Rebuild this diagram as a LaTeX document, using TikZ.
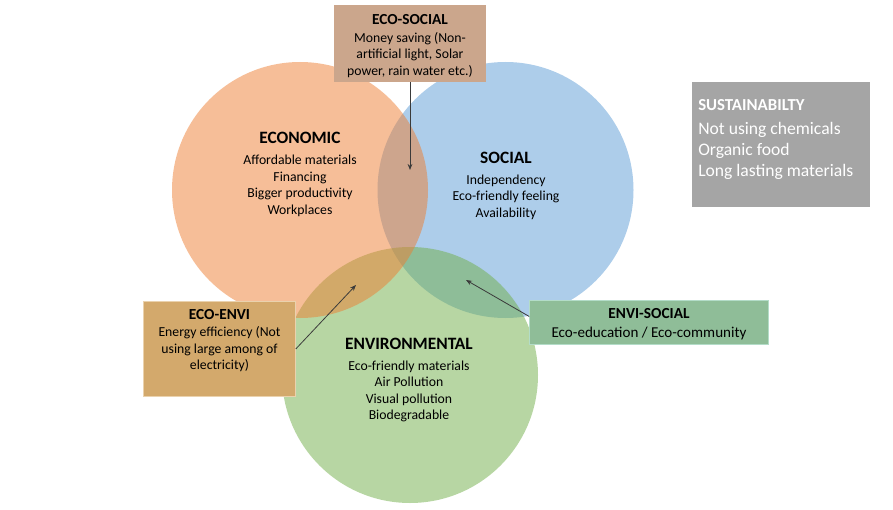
\documentclass[tikz,border=0pt]{standalone}
\usepackage{fontspec}
\setmainfont{Carlito}
\usetikzlibrary{arrows.meta}
\definecolor{cblue}{HTML}{5B9BD5}
\definecolor{cgreen}{HTML}{70AD47}
\definecolor{corange}{HTML}{ED7D31}
\definecolor{ecosoc}{HTML}{CBA68C}
\definecolor{ecoenv}{HTML}{D3A96C}
\definecolor{ecoenvb}{HTML}{EAD2AE}
\definecolor{envsoc}{HTML}{8FBD98}
\definecolor{envsocb}{HTML}{B3DCC8}
\definecolor{sustgray}{HTML}{A5A5A5}
\definecolor{arrowgray}{HTML}{3A3A3A}
\tikzset{
  venn/.style={circle, minimum size=192pt, inner sep=0pt, fill opacity=0.5},
  boxtitle/.style={font=\fontsize{11.5}{13}\selectfont\bfseries, inner sep=0pt},
  circtitle/.style={font=\fontsize{13}{15}\selectfont\bfseries, inner sep=0pt},
  bodytext/.style={font=\fontsize{10.3}{12.4}\selectfont, align=center, inner sep=0pt},
  pointer/.style={draw=arrowgray, line width=0.6pt, -{Stealth[length=4.5pt,width=3.5pt]}},
}
\begin{document}
\begin{tikzpicture}[x=0.75pt,y=-0.75pt]
\useasboundingbox (0,0) rectangle (893,510);
% circles
\node[venn, fill=cblue] (soc) at (505.5,190) {};
\node[venn, fill=cgreen] (env) at (410,375) {};
\node[venn, fill=corange] (econ) at (300,190) {};
% circle texts
\node[circtitle] (econT) at (300,138) {ECONOMIC};
\node[bodytext] (econB) at (300,186) {Affordable materials\\Financing\\Bigger productivity\\Workplaces};
\node[circtitle] (socT) at (506,158) {SOCIAL};
\node[bodytext] (socB) at (506,197) {Independency\\Eco-friendly feeling\\Availability};
\node[circtitle] (envT) at (409,344) {ENVIRONMENTAL};
\node[bodytext] (envB) at (409,391.5) {Eco-friendly materials\\Air Pollution\\Visual pollution\\Biodegradable};
% boxes
\fill[ecosoc] (334,5) rectangle (486,82);
\node[inner sep=0pt, minimum width=114pt, minimum height=57.75pt] (ecosocBox) at (410,43.5) {};
\node[boxtitle] (ecosocT) at (410,19.5) {ECO-SOCIAL};
\node[bodytext] (ecosocB) at (410,55) {Money saving (Non-\\artificial light, Solar\\power, rain water etc.)};
\filldraw[fill=ecoenv, draw=ecoenvb, line width=0.8pt] (143.5,301.5) rectangle (295.5,396.5);
\node[inner sep=0pt, minimum width=114pt, minimum height=71.25pt] (ecoenvBox) at (219.5,349) {};
\node[boxtitle] (ecoenvT) at (219.5,315) {ECO-ENVI};
\node[bodytext] (ecoenvB) at (219.5,349.5) {Energy efficiency (Not\\using large among of\\electricity)};
\filldraw[fill=envsoc, draw=envsocb, line width=0.8pt] (529.5,300.5) rectangle (768.5,344.5);
\node[inner sep=0pt, minimum width=179.25pt, minimum height=33pt] (envsocBox) at (649,322.5) {};
\node[boxtitle] (envsocT) at (649,314) {ENVI-SOCIAL};
\node[font=\fontsize{11.3}{13}\selectfont, inner sep=0pt] (envsocB) at (649,333) {Eco-education / Eco-community};
\fill[sustgray] (692,82) rectangle (870,207);
\node[inner sep=0pt, minimum width=133.5pt, minimum height=93.75pt] (sustBox) at (781,144.5) {};
\node[font=\fontsize{12.6}{14}\selectfont\bfseries, text=white, anchor=west, inner sep=0pt] (sustT) at (698,105) {SUSTAINABILTY};
\node[font=\fontsize{13.2}{15.75}\selectfont, text=white, align=left, anchor=west, inner sep=0pt] (sustB) at (698,151) {Not using chemicals\\Organic food\\Long lasting materials};
% pointer ends
\coordinate (pEcoSoc) at (410,170);
\coordinate (pEcoEnv) at (356,285);
\coordinate (pEnvSoc) at (466,280);
\coordinate (envsocStart) at ([yshift=4.5pt]envsocBox.west);
\draw[pointer] (ecosocBox.south) -- (pEcoSoc);
\draw[pointer] (ecoenvBox.east) -- (pEcoEnv);
\draw[pointer] (envsocStart) -- (pEnvSoc);
\end{tikzpicture}
\end{document}
